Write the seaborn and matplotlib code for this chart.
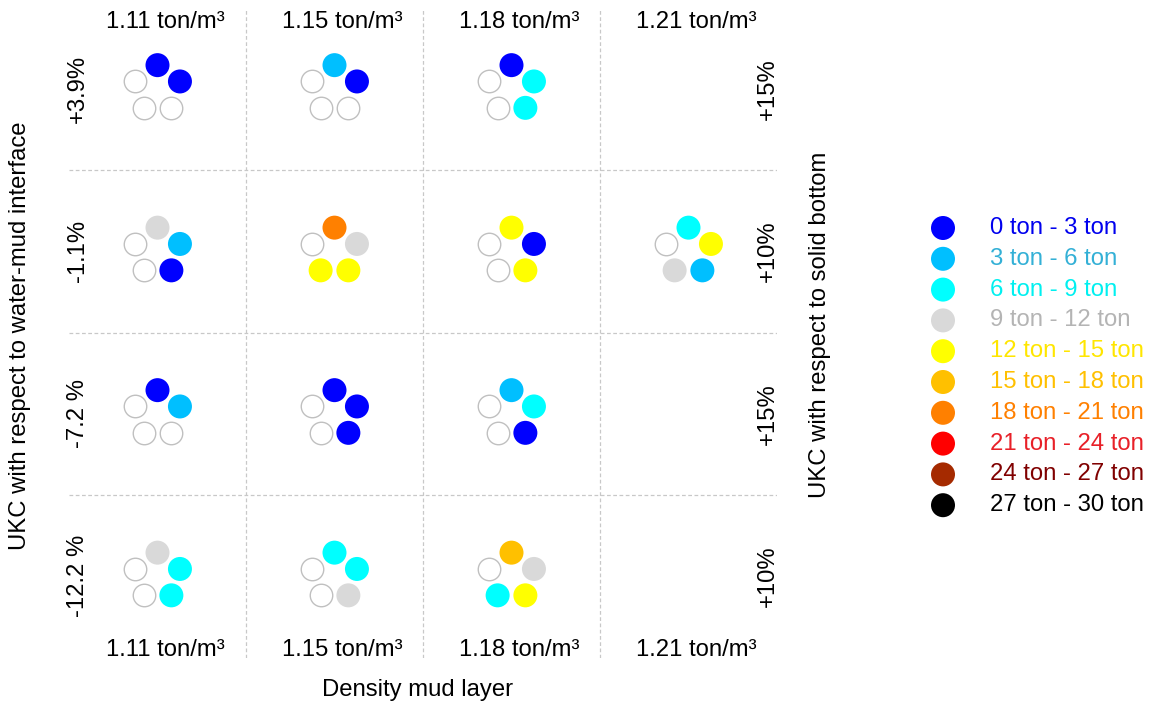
import numpy as np
import pandas as pd
import matplotlib
matplotlib.use("Agg")
import matplotlib.pyplot as plt
import seaborn as sns

# ---------------- data ----------------
density_labels = ["1.11 ton/m³", "1.15 ton/m³", "1.18 ton/m³", "1.21 ton/m³"]
ukc_mud_labels = ["+3.9%", "-1.1%", "-7.2 %", "-12.2 %"]
ukc_bottom_labels = ["+15%", "+10%", "+15%", "+10%"]

weight_classes = ["0 ton - 3 ton", "3 ton - 6 ton", "6 ton - 9 ton", "9 ton - 12 ton",
                  "12 ton - 15 ton", "15 ton - 18 ton", "18 ton - 21 ton",
                  "21 ton - 24 ton", "24 ton - 27 ton", "27 ton - 30 ton"]
class_colors = ["#0000FF", "#00BFFF", "#00FFFF", "#D9D9D9", "#FFFF00",
                "#FFC000", "#FF8000", "#FF0000", "#A52A00", "#000000"]
text_colors = ["#0000EE", "#33B0D6", "#00F0F0", "#B4B4B4", "#FFE600",
               "#FFC000", "#FF8000", "#E82028", "#800000", "#000000"]

# circle positions in each cell
positions = ["top", "right", "left", "bottom-left", "bottom-right"]
# weight class index at each position (None = no load / empty circle); None cell = no test
row_1 = [[0, 0, None, None, None], [1, 0, None, None, None], [0, 2, None, None, 2], None]
row_2 = [[3, 1, None, None, 0], [6, 3, None, 4, 4], [4, 0, None, None, 4], [2, 4, None, 3, 1]]
row_3 = [[0, 1, None, None, None], [0, 0, None, None, 0], [1, 2, None, None, 0], None]
row_4 = [[3, 2, None, None, 2], [2, 2, None, None, 3], [5, 3, None, 2, 4], None]
grid_rows = [row_1, row_2, row_3, row_4]

# ---------------- layout ----------------
W, H = 1158, 708
sns.set_style("white")
plt.rcParams["font.family"] = ["Liberation Sans", "DejaVu Sans"]
plt.rcParams["text.color"] = "black"
fig = plt.figure(figsize=(W / 100, H / 100), dpi=100)
FS = 17.2

gx0, gx1, gy0, gy1 = 69, 777, 7.5, 657.5
ax = fig.add_axes([gx0 / W, 1 - gy1 / H, (gx1 - gx0) / W, (gy1 - gy0) / H])
ax.set_xlim(0, 4)
ax.set_ylim(4, 0)
ax.axis("off")

cell_w = (gx1 - gx0) / 4
cell_h = (gy1 - gy0) / 4
r_px = 23.6
angles = {"top": 90, "right": 18, "left": 162, "bottom-left": 234, "bottom-right": 306}

recs = []
for ri, row in enumerate(grid_rows):
    for ci, cell in enumerate(row):
        if cell is None:
            continue
        for pos, cls in zip(positions, cell):
            a = np.deg2rad(angles[pos])
            recs.append(dict(x=ci + 0.5 + r_px * np.cos(a) / cell_w,
                             y=ri + 0.5 - r_px * np.sin(a) / cell_h,
                             cls=weight_classes[cls] if cls is not None else "empty"))
df = pd.DataFrame(recs)

for v in [1, 2, 3]:
    ax.axvline(v, color="#C8C8C8", lw=0.9, ls=(0, (3, 2)))
    ax.axhline(v, color="#C8C8C8", lw=0.9, ls=(0, (3, 2)))

pal = dict(zip(weight_classes, class_colors))
d_px = 24
s_fill = (d_px * 0.72) ** 2
s_empty = ((d_px - 1.5) * 0.72) ** 2
sns.scatterplot(data=df[df.cls == "empty"], x="x", y="y", s=s_empty, color="white",
                edgecolor="#C0C0C0", linewidth=1.0, legend=False, ax=ax, zorder=3)
sns.scatterplot(data=df[df.cls != "empty"], x="x", y="y", hue="cls", palette=pal,
                s=s_fill, edgecolor="none", linewidth=0, legend=False, ax=ax, zorder=3)

# column labels top/bottom
for ci, lab in enumerate(density_labels):
    ax.text(ci + 0.5 + 8 / cell_w, 14 / cell_h, lab, ha="center", va="center",
            fontsize=FS, color="black")
    ax.text(ci + 0.5 + 8 / cell_w, 4 - 8 / cell_h, lab, ha="center", va="center",
            fontsize=FS, color="black")
# row labels left/right
for ri, lab in enumerate(ukc_mud_labels):
    ax.text(9 / cell_w, ri + 0.5, lab, rotation=90, ha="center", va="center",
            fontsize=FS, color="black")
for ri, lab in enumerate(ukc_bottom_labels):
    ax.text(4 - 9 / cell_w, ri + 0.5, lab, rotation=90, ha="center", va="center",
            fontsize=FS, color="black")

fig.text(20 / W, 1 - 336 / H, "UKC with respect to water-mud interface", rotation=90,
         ha="center", va="center", fontsize=FS, color="black")
fig.text(820 / W, 1 - 325 / H, "UKC with respect to solid bottom", rotation=90,
         ha="center", va="center", fontsize=FS, color="black")
fig.text(418 / W, 1 - 690 / H, "Density mud layer", ha="center", va="center",
         fontsize=FS, color="black")

# ---------------- legend ----------------
ly0, ldy = 228, 30.8
lax = fig.add_axes([920 / W, 1 - (ly0 + 9.5 * ldy) / H, 238 / W, 10 * ldy / H])
lax.set_xlim(0, 238)
lax.set_ylim(9.5, -0.5)
lax.axis("off")
leg = pd.DataFrame(dict(cls=weight_classes, k=np.arange(len(weight_classes)),
                        pos=np.full(len(weight_classes), 23.0)))
sns.scatterplot(data=leg, x="pos", y="k", hue="cls", palette=pal, s=s_fill,
                edgecolor="none", linewidth=0, legend=False, ax=lax)
for k, (lab, tc) in enumerate(zip(weight_classes, text_colors)):
    lax.text(70, k, lab, color=tc, ha="left", va="center", fontsize=FS)

fig.savefig("out.png", dpi=100)
